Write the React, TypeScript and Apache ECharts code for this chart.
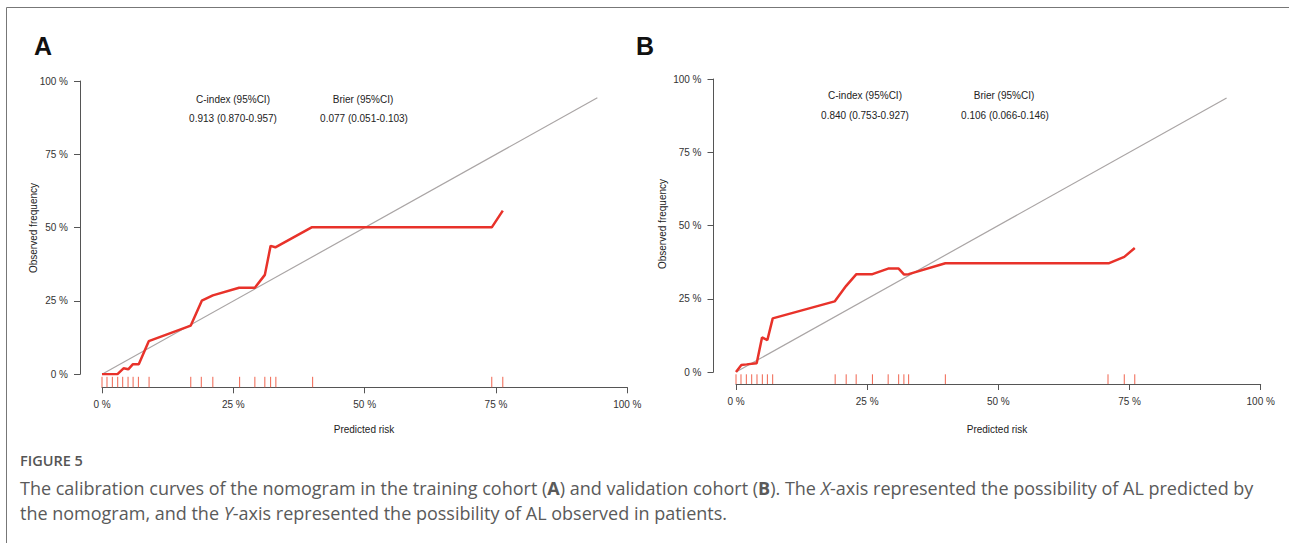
import React, { useEffect, useRef } from "react";
import * as echarts from "echarts";

// Panel A (training cohort) calibration curve
const calAx = [0, 0.029, 0.041, 0.05, 0.0585, 0.07, 0.089, 0.169, 0.19, 0.211, 0.261, 0.291, 0.31, 0.321, 0.33, 0.399, 0.742, 0.763];
const calAy = [0, 0, 0.0205, 0.017, 0.034, 0.034, 0.113, 0.166, 0.251, 0.269, 0.295, 0.295, 0.339, 0.438, 0.433, 0.501, 0.501, 0.558];
const rugA = [0, 0.0095, 0.0197, 0.0299, 0.0394, 0.0496, 0.0592, 0.0693, 0.0896, 0.169, 0.189, 0.211, 0.262, 0.291, 0.31, 0.321, 0.331, 0.401, 0.742, 0.763];
const diagA = [0, 0.943];

// Panel B (validation cohort) calibration curve
const calBx = [0, 0.0102, 0.0203, 0.0394, 0.0496, 0.0598, 0.07, 0.188, 0.21, 0.2295, 0.26, 0.29, 0.31, 0.32, 0.329, 0.399, 0.71, 0.74, 0.76];
const calBy = [0, 0.024, 0.026, 0.03, 0.118, 0.109, 0.183, 0.241, 0.294, 0.334, 0.334, 0.353, 0.353, 0.333, 0.334, 0.371, 0.371, 0.393, 0.423];
const rugB = [0, 0.0095, 0.0197, 0.0299, 0.04, 0.0502, 0.0598, 0.0699, 0.189, 0.21, 0.229, 0.26, 0.29, 0.31, 0.32, 0.329, 0.399, 0.709, 0.74, 0.76];
const diagB = [0, 0.935];

const statsA = ["C-index (95%CI)", "0.913 (0.870-0.957)", "Brier (95%CI)", "0.077 (0.051-0.103)"];
const statsB = ["C-index (95%CI)", "0.840 (0.753-0.927)", "Brier (95%CI)", "0.106 (0.066-0.146)"];

const AX = "#555";
const FONT = "'Liberation Sans', Arial, sans-serif";
const CAP = "'Open Sans', sans-serif";
const RED = "#e8322a";
const RUG = "#f0644f";

function pairs(xs: number[], ys: number[]) {
  return xs.map((x, i) => [x, ys[i]]);
}

function xAxis(grid: number, offset: number) {
  return {
    type: "value", gridIndex: grid, min: 0, max: 1, interval: 0.25, position: "bottom", offset,
    axisLine: { show: true, onZero: false, lineStyle: { color: AX, width: 1 } },
    axisTick: { show: true, length: 6, lineStyle: { color: AX } },
    axisLabel: { formatter: (v: number) => Math.round(v * 100) + " %", fontSize: 10, color: "#333", margin: 12, fontFamily: FONT },
    splitLine: { show: false },
  };
}
function yAxis(grid: number, offset: number) {
  return {
    type: "value", gridIndex: grid, min: 0, max: 1, interval: 0.25, position: "left", offset,
    axisLine: { show: true, onZero: false, lineStyle: { color: AX, width: 1 } },
    axisTick: { show: true, length: 6, lineStyle: { color: AX } },
    axisLabel: { formatter: (v: number) => Math.round(v * 100) + " %", fontSize: 10, color: "#333", margin: 12, fontFamily: FONT },
    splitLine: { show: false },
  };
}

function rugSeries(idx: number, data: number[], lo: number, hi: number) {
  return {
    type: "custom", xAxisIndex: idx, yAxisIndex: idx, silent: true, clip: false,
    data: data.map((v) => [v, 0]),
    renderItem: (params: any, api: any) => {
      const p = api.coord([api.value(0), 0]);
      return { type: "line", shape: { x1: p[0], y1: p[1] + lo, x2: p[0], y2: p[1] + hi }, style: { stroke: RUG, lineWidth: 1 } };
    },
  };
}

function txt(x: number, y: number, text: string, extra: any = {}) {
  return { type: "text", x, y, style: { text, fontSize: 10, fill: "#222", fontFamily: FONT, align: "center", verticalAlign: "middle", ...extra } };
}

const capRich = {
  b: { fontWeight: "bold", fontSize: 18, fill: "#5a5a5a", fontFamily: CAP },
  i: { fontStyle: "italic", fontSize: 18, fill: "#5a5a5a", fontFamily: CAP },
};

export default function App() {
  const ref = useRef<HTMLDivElement>(null);
  useEffect(() => {
    const chart = echarts.init(ref.current!, null, { renderer: "svg" });
    chart.setOption({
      animation: false,
      backgroundColor: "#fff",
      grid: [
        { left: 102, top: 81, width: 525.3, height: 293.3 },
        { left: 736, top: 79, width: 524.7, height: 293 },
      ],
      xAxis: [xAxis(0, 13), xAxis(1, 12)],
      yAxis: [yAxis(0, 22), yAxis(1, 22.5)],
      series: [
        { type: "line", xAxisIndex: 0, yAxisIndex: 0, data: pairs(diagA, diagA), showSymbol: false, lineStyle: { color: "#aaa5a5", width: 1.2 }, silent: true },
        { type: "line", xAxisIndex: 0, yAxisIndex: 0, data: pairs(calAx, calAy), showSymbol: false, lineStyle: { color: RED, width: 2.5 }, silent: true },
        rugSeries(0, rugA, 2.5, 13),
        { type: "line", xAxisIndex: 1, yAxisIndex: 1, data: pairs(diagB, diagB), showSymbol: false, lineStyle: { color: "#aaa5a5", width: 1.2 }, silent: true },
        { type: "line", xAxisIndex: 1, yAxisIndex: 1, data: pairs(calBx, calBy), showSymbol: false, lineStyle: { color: RED, width: 2.5 }, silent: true },
        rugSeries(1, rugB, 2.3, 12),
      ],
      graphic: [
        { type: "line", shape: { x1: 6.5, y1: 7.5, x2: 1289, y2: 7.5 }, style: { stroke: "#777", lineWidth: 1 } },
        { type: "line", shape: { x1: 6.5, y1: 7.5, x2: 6.5, y2: 543 }, style: { stroke: "#777", lineWidth: 1 } },
        txt(43, 46, "A", { fontSize: 25, fontWeight: "bold", fill: "#111" }),
        txt(645, 46, "B", { fontSize: 25, fontWeight: "bold", fill: "#111" }),
        txt(233, 99, statsA[0]), txt(233, 118, statsA[1]), txt(363, 99, statsA[2]), txt(364, 118, statsA[3]),
        txt(865, 95, statsB[0]), txt(865, 115, statsB[1]), txt(1004, 95, statsB[2]), txt(1005, 115, statsB[3]),
        txt(364, 429, "Predicted risk"),
        txt(997, 429, "Predicted risk"),
        { ...txt(0, 0, "Observed frequency"), x: 33, y: 228, rotation: Math.PI / 2 },
        { ...txt(0, 0, "Observed frequency"), x: 662, y: 224, rotation: Math.PI / 2 },
        { type: "text", x: 20, y: 460, style: { text: "FIGURE 5", fontSize: 14.5, fontWeight: 600, fill: "#555", fontFamily: CAP, verticalAlign: "middle" } },
        {
          type: "text", x: 20, y: 488,
          style: {
            text: "The calibration curves of the nomogram in the training cohort ({b|A}) and validation cohort ({b|B}). The {i|X}-axis represented the possibility of AL predicted by",
            fontSize: 18, fill: "#5a5a5a", fontFamily: CAP, verticalAlign: "middle", rich: capRich,
          },
        },
        {
          type: "text", x: 20, y: 513,
          style: {
            text: "the nomogram, and the {i|Y}-axis represented the possibility of AL observed in patients.",
            fontSize: 18, fill: "#5a5a5a", fontFamily: CAP, verticalAlign: "middle", rich: capRich,
          },
        },
      ],
    });
    return () => chart.dispose();
  }, []);
  return <div ref={ref} style={{ position: "fixed", left: 0, top: 0, width: 1289, height: 543 }} />;
}
